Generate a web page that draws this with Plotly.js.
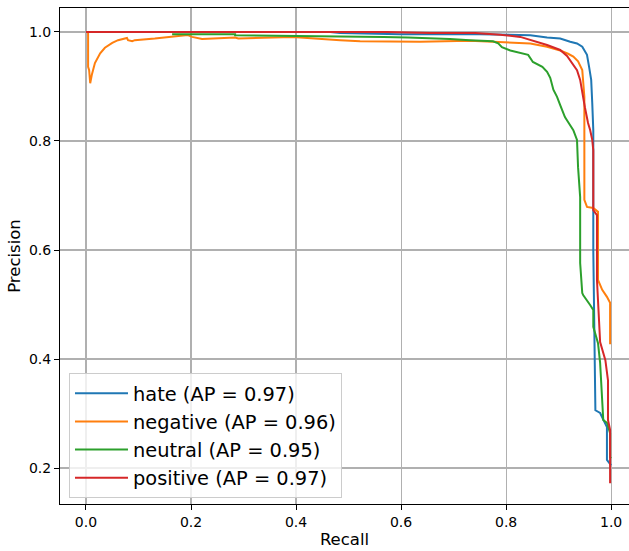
<!DOCTYPE html>
<html>
<head>
<meta charset="utf-8">
<script src="https://cdn.plot.ly/plotly-3.0.1.min.js"></script>
<style>html,body{margin:0;padding:0;background:#fff;}#chart{width:629px;height:551px;}</style>
</head>
<body>
<div id="chart"></div>
<script>
// Series names and AP labels
const seriesNames = ["hate (AP = 0.97)", "negative (AP = 0.96)", "neutral (AP = 0.95)", "positive (AP = 0.97)"];

// hate
const hateRecall = [0, 0.465, 0.484, 0.598, 0.750, 0.846, 0.878, 0.903, 0.922, 0.935, 0.945, 0.954, 0.958, 0.962, 0.964, 0.966, 0.966, 0.968, 0.970, 0.979, 0.985, 0.992, 0.992, 0.996, 1.0];
const hatePrecision = [1.0, 1.0, 0.998, 0.996, 0.996, 0.994, 0.990, 0.988, 0.982, 0.979, 0.973, 0.958, 0.936, 0.912, 0.870, 0.820, 0.600, 0.453, 0.306, 0.301, 0.288, 0.275, 0.215, 0.209, 0.205];

// negative
const negRecall = [0.004, 0.004, 0.006, 0.008, 0.011, 0.017, 0.027, 0.036, 0.050, 0.061, 0.078, 0.080, 0.088, 0.093, 0.131, 0.194, 0.202, 0.221, 0.284, 0.290, 0.394, 0.421, 0.484, 0.522, 0.636, 0.731, 0.783, 0.846, 0.878, 0.903, 0.918, 0.928, 0.937, 0.945, 0.947, 0.949, 0.949, 0.954, 0.966, 0.975, 0.975, 0.983, 0.992, 0.998, 0.998, 1.0];
const negPrecision = [1.0, 0.936, 0.930, 0.906, 0.921, 0.943, 0.961, 0.971, 0.980, 0.985, 0.989, 0.985, 0.983, 0.985, 0.988, 0.9945, 0.991, 0.987, 0.990, 0.988, 0.991, 0.989, 0.985, 0.983, 0.982, 0.984, 0.982, 0.979, 0.973, 0.966, 0.960, 0.955, 0.946, 0.930, 0.906, 0.881, 0.692, 0.679, 0.677, 0.670, 0.545, 0.527, 0.514, 0.503, 0.429, 0.429];

// neutral
const neuRecall = [0.164, 0.284, 0.284, 0.427, 0.509, 0.566, 0.613, 0.655, 0.693, 0.731, 0.775, 0.785, 0.792, 0.808, 0.827, 0.842, 0.851, 0.869, 0.878, 0.884, 0.890, 0.897, 0.903, 0.912, 0.918, 0.928, 0.935, 0.937, 0.941, 0.941, 0.945, 0.947, 0.960, 0.966, 0.966, 0.975, 0.979, 0.983, 0.985, 0.992, 0.998, 0.998, 1.0];
const neuPrecision = [0.996, 0.996, 0.994, 0.993, 0.992, 0.991, 0.990, 0.989, 0.987, 0.985, 0.983, 0.979, 0.972, 0.966, 0.961, 0.958, 0.945, 0.936, 0.927, 0.916, 0.894, 0.881, 0.866, 0.844, 0.835, 0.820, 0.802, 0.752, 0.697, 0.576, 0.521, 0.517, 0.499, 0.490, 0.459, 0.429, 0.393, 0.325, 0.288, 0.283, 0.264, 0.220, 0.218];

// positive
const posRecall = [0, 0.573, 0.655, 0.741, 0.789, 0.827, 0.878, 0.903, 0.916, 0.926, 0.935, 0.941, 0.945, 0.950, 0.956, 0.960, 0.964, 0.966, 0.966, 0.973, 0.973, 0.979, 0.989, 0.994, 0.994, 0.998, 0.998, 1.0];
const posPrecision = [1.0, 1.0, 0.998, 0.998, 0.995, 0.991, 0.976, 0.967, 0.956, 0.943, 0.930, 0.912, 0.888, 0.862, 0.833, 0.820, 0.802, 0.783, 0.673, 0.664, 0.545, 0.431, 0.398, 0.361, 0.288, 0.270, 0.174, 0.174];

const tickVals = [0, 0.2, 0.4, 0.6, 0.8, 1.0];
const tickText = ["0.0", "0.2", "0.4", "0.6", "0.8", "1.0"];
const yTickVals = [0.2, 0.4, 0.6, 0.8, 1.0];
const yTickText = ["0.2", "0.4", "0.6", "0.8", "1.0"];

const colors = ["#1f77b4", "#ff7f0e", "#2ca02c", "#d62728"];
const xs = [hateRecall, negRecall, neuRecall, posRecall];
const ys = [hatePrecision, negPrecision, neuPrecision, posPrecision];

const traces = xs.map((x, i) => ({
  type: "scatter", mode: "lines", x: x, y: ys[i], name: seriesNames[i],
  line: {color: colors[i], width: 2}
}));

const font = "DejaVu Sans, sans-serif";
const layout = {
  width: 629, height: 551,
  margin: {l: 60, r: 0, t: 8, b: 47, pad: 0},
  paper_bgcolor: "#fff", plot_bgcolor: "#fff",
  font: {family: font, size: 14, color: "#000"},
  showlegend: true,
  legend: {
    x: 0.0158, y: 0.012, xanchor: "left", yanchor: "bottom",
    bgcolor: "rgba(255,255,255,0.8)", bordercolor: "#cccccc", borderwidth: 1,
    font: {family: font, size: 19.4, color: "#000"},
    itemwidth: 53
  },
  xaxis: {
    range: [-0.0495, 1.034], tickvals: tickVals, ticktext: tickText,
    showgrid: true, gridcolor: "#b0b0b0", gridwidth: 1.1,
    showline: true, linecolor: "#000", linewidth: 1, mirror: true,
    ticks: "outside", ticklen: 5, tickwidth: 1, tickcolor: "#000",
    zeroline: false,
    tickfont: {family: font, size: 14, color: "#000"},
    title: {text: "Recall", font: {family: font, size: 16.5, color: "#000"}, standoff: 4}
  },
  yaxis: {
    range: [0.134, 1.044], tickvals: yTickVals, ticktext: yTickText,
    showgrid: true, gridcolor: "#b0b0b0", gridwidth: 1.1,
    showline: true, linecolor: "#000", linewidth: 1, mirror: false,
    ticks: "outside", ticklen: 5, tickwidth: 1, tickcolor: "#000",
    zeroline: false,
    tickfont: {family: font, size: 14, color: "#000"},
    title: {text: "Precision", font: {family: font, size: 16.5, color: "#000"}, standoff: 4}
  }
};

Plotly.newPlot("chart", traces, layout, {staticPlot: true, displayModeBar: false});
</script>
</body>
</html>
